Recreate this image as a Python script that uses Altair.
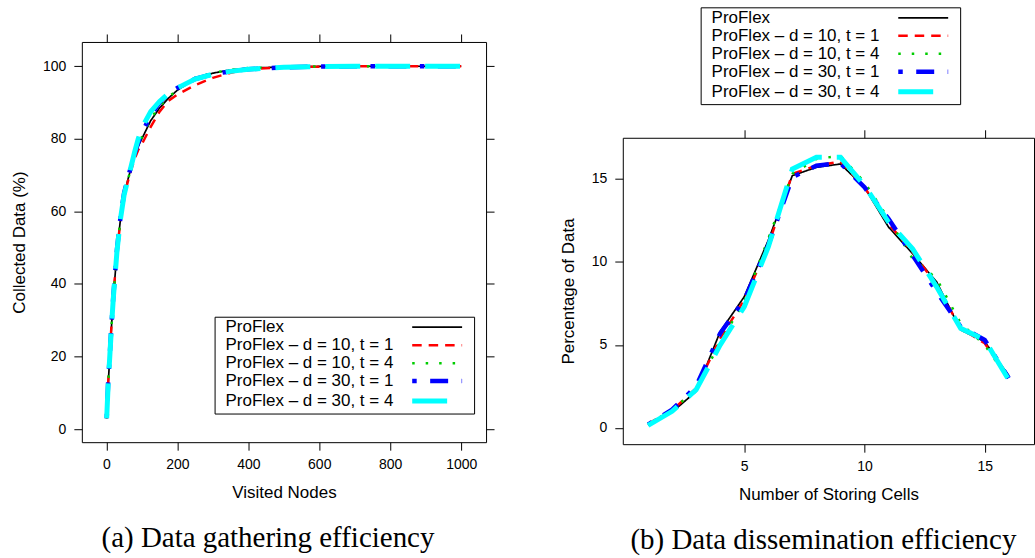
import altair as alt
import pandas as pd

series = ["ProFlex", "ProFlex – d = 10, t = 1", "ProFlex – d = 10, t = 4",
          "ProFlex – d = 30, t = 1", "ProFlex – d = 30, t = 4"]
colors = ["#000000", "#ff0000", "#00cd00", "#0000ff", "#00ffff"]
dashes = [[1, 0], [9.5, 7], [2.5, 11], [4.5, 13.5, 18, 13.5], [35, 15]]
widths = [1.7, 2.5, 2.5, 4.5, 5]

# (a) Data gathering efficiency
visited = [1, 5, 10, 15, 20, 30, 40, 50, 60, 70, 80, 90, 100, 125, 150, 175, 200,
           250, 300, 350, 400, 500, 600, 700, 800, 900, 1000]
gather_proflex = [3, 12, 20.5, 29, 36.5, 49, 58, 64.5, 68.5, 72, 75.5, 78, 80, 85, 88.5,
                  91.2, 93.4, 96.5, 98.1, 99.0, 99.5, 99.8, 99.95, 100, 100, 100, 100]
gather_d10_t1 = [3, 12.5, 21, 29.5, 37, 49, 57.5, 64, 68, 71.5, 74.5, 77, 78.5, 83.3, 87.5,
                 90.5, 92.2, 94.8, 96.8, 98.2, 99.2, 99.7, 99.9, 100, 100, 100, 100]
gather_d10_t4 = [3, 12, 20.5, 29, 36.5, 49, 58, 64.5, 68.5, 72, 75.5, 78, 80.5, 85.5, 89,
                 91.5, 93.5, 96.8, 98.2, 99.0, 99.5, 99.8, 99.95, 100, 100, 100, 100]
gather_d30_t1 = [3, 12.5, 21, 29.5, 37, 49.5, 58.5, 65, 69, 72.5, 76, 79, 81.5, 86.5, 90,
                 92.5, 94, 96.5, 97.8, 98.6, 99.2, 99.7, 99.9, 100, 100, 100, 100]
gather_d30_t4 = [3, 12, 20.5, 29, 36.5, 49, 58, 64.5, 68.5, 72.5, 76.5, 80, 83, 87.5, 90.3,
                 92.5, 94, 96.5, 97.8, 98.6, 99.2, 99.7, 99.9, 100, 100, 100, 100]

# (b) Data dissemination efficiency
cells = list(range(1, 17))
diss_proflex = [0.18, 0.95, 2.2, 5.8, 7.9, 11.3, 15.2, 15.7, 15.9, 14.5, 12.1, 10.5, 8.8, 5.9, 5.2, 3.15]
diss_d10_t1 = [0.25, 1.05, 2.4, 5.4, 7.7, 11.0, 15.3, 15.8, 16.05, 14.5, 12.3, 10.6, 8.6, 6.0, 5.1, 3.0]
diss_d10_t4 = [0.2, 1.1, 2.3, 5.2, 7.6, 11.4, 15.3, 16.2, 16.4, 14.8, 12.6, 10.2, 9.0, 6.3, 5.0, 2.9]
diss_d30_t1 = [0.2, 1.1, 2.5, 5.7, 7.7, 11.0, 15.1, 15.8, 15.95, 14.5, 12.6, 10.4, 8.2, 6.1, 5.3, 3.0]
diss_d30_t4 = [0.15, 1.0, 2.3, 5.0, 7.3, 10.9, 15.6, 16.3, 16.3, 14.6, 12.4, 10.8, 8.5, 6.0, 5.3, 2.9]

left_ticks_x = [0, 200, 400, 600, 800, 1000]
left_ticks_y = [0, 20, 40, 60, 80, 100]
right_ticks_x = [5, 10, 15]
right_ticks_y = [0, 5, 10, 15]


def long_df(xs, ys_list):
    rows = []
    for s, ys in zip(series, ys_list):
        for xv, yv in zip(xs, ys):
            rows.append({"series": s, "x": xv, "y": yv})
    return pd.DataFrame(rows)


df_a = long_df(visited, [gather_proflex, gather_d10_t1, gather_d10_t4, gather_d30_t1, gather_d30_t4])
df_b = long_df(cells, [diss_proflex, diss_d10_t1, diss_d10_t4, diss_d30_t1, diss_d30_t4])

SANS = "Liberation Sans"


def make_legend(lx, ly):
    # labels on the left, line samples on the right (lattice style key)
    return alt.Legend(
        title=None, orient="none", legendX=lx, legendY=ly,
        symbolType="M-5,0L5,0", symbolSize=100, symbolOffset=212.5,
        labelOffset={"expr": "-220.5"}, labelFont=SANS, labelFontSize=17, labelColor="black",
        labelLimit=400, strokeColor="black", fillColor="white", padding=2,
        rowPadding=0,
    )


def style_encodings(leg):
    return dict(
        color=alt.Color("series:N", scale=alt.Scale(domain=series, range=colors), legend=leg),
        strokeDash=alt.StrokeDash("series:N", scale=alt.Scale(domain=series, range=dashes), legend=leg),
        strokeWidth=alt.StrokeWidth("series:N", scale=alt.Scale(type="ordinal", domain=series, range=widths),
                                    legend=leg),
    )


def panel(df, xdom, ydom, xticks, yticks, w, h, xtitle, ytitle, leg, caption, cdx, right_axis):
    sx = alt.Scale(domain=xdom, nice=False, zero=False)
    sy = alt.Scale(domain=ydom, nice=False, zero=False)
    base = alt.Chart(df)
    lines = base.mark_line().encode(
        x=alt.X("x:Q", scale=sx, axis=alt.Axis(values=xticks, format="d", title=xtitle,
                                               labelPadding=7, titlePadding=13)),
        y=alt.Y("y:Q", scale=sy, axis=alt.Axis(values=yticks, format="d", title=ytitle,
                                               labelPadding=8, titlePadding=14)),
        **style_encodings(leg),
    )
    yax = alt.Axis(orient="right", values=yticks, labels=False, title=None) if right_axis else None
    mirror = base.mark_line(opacity=0).encode(
        x=alt.X("x:Q", scale=sx, axis=alt.Axis(orient="top", values=xticks, labels=False, title=None)),
        y=alt.Y("y:Q", scale=sy, axis=yax),
    )
    return alt.layer(lines, mirror).resolve_axis(x="independent", y="independent").properties(
        width=w, height=h,
        title=alt.TitleParams(caption, orient="bottom", anchor="middle", frame="group",
                              font="Liberation Serif", fontSize=29, fontWeight="normal",
                              color="black", offset=24, dx=cdx),
    )


left = panel(df_a, [-69, 1070], [-3.6, 106.7], left_ticks_x, left_ticks_y, 405, 401,
             "Visited Nodes", "Collected Data (%)", make_legend(133, 275.3),
             "(a) Data gathering efficiency", -16, True)

right_plot = panel(df_b, [-0.05, 17.05], [-0.98, 17.48], right_ticks_x, right_ticks_y, 412, 307,
                   "Number of Storing Cells", "Percentage of Data", None,
                   "(b) Data dissemination efficiency", -5, False)

# key of panel (b), drawn above its plot
right_key = alt.Chart(df_b).transform_filter("false").mark_line().encode(
    x=alt.X("x:Q", axis=None, scale=alt.Scale(domain=[-0.05, 17.05], nice=False, zero=False)),
    y=alt.Y("y:Q", axis=None, scale=alt.Scale(domain=[-0.98, 17.48], nice=False, zero=False)),
    **style_encodings(make_legend(78, -34.7)),
).properties(width=412, height=86.3, view=alt.ViewBackground(stroke="transparent"))

right = alt.vconcat(right_key, right_plot, spacing=0).resolve_scale(
    color="independent", strokeDash="independent", strokeWidth="independent"
).resolve_legend(color="independent", strokeDash="independent", strokeWidth="independent")

chart = alt.hconcat(left, right, spacing=63).resolve_scale(
    color="independent", strokeDash="independent", strokeWidth="independent"
).resolve_legend(
    color="independent", strokeDash="independent", strokeWidth="independent"
).configure(
    padding={"left": 10, "top": 5.5, "right": 0, "bottom": 0},
    background="white",
).configure_view(stroke="black", strokeWidth=1).configure_axis(
    grid=False, domain=False, tickSize=8, tickColor="black", tickWidth=1,
    labelFont=SANS, labelFontSize=14, labelColor="black",
    titleFont=SANS, titleFontSize=17, titleFontWeight="normal", titleColor="black",
)

chart.save("out.html", embed_options={"renderer": "svg", "actions": False})
